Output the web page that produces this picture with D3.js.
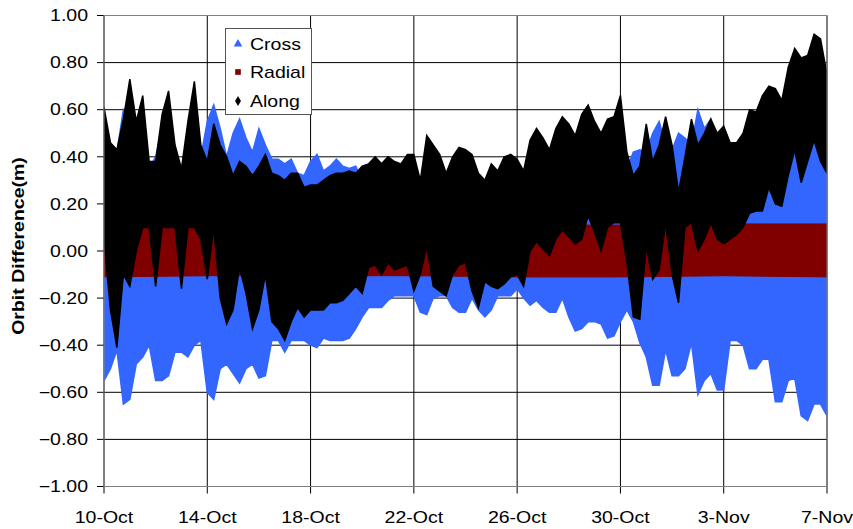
<!DOCTYPE html>
<html>
<head>
<meta charset="utf-8">
<script src="https://cdn.jsdelivr.net/npm/d3@7"></script>
<style>
  body { margin: 0; background: #fff; }
  text { font-family: "Liberation Sans", Arial, sans-serif; fill: #000; }
</style>
</head>
<body>
<svg id="chart" width="853" height="529"></svg>
<script>
// Orbit differences, 10-Oct to 7-Nov. Each series is kept as the spread
// (high / low envelope) of the dense samples in consecutive 6-hour bins.
const binDays = 0.25;

const crossHigh = [
  0.45,0.40,0.42,0.60,0.55,0.38,0.35,0.35,0.40,0.53,0.42,0.35,0.35,0.38,0.35,0.40,0.55,0.62,0.52,
  0.40,0.50,0.56,0.48,0.42,0.52,0.45,0.39,0.39,0.37,0.39,0.33,0.32,0.38,0.41,0.34,0.36,0.39,0.36,0.35,
  0.36,0.30,0.26,0.26,0.26,0.26,0.26,0.26,0.26,0.26,0.26,0.26,0.26,0.26,0.26,0.26,0.26,0.26,0.26,
  0.26,0.26,0.26,0.26,0.26,0.26,0.26,0.26,0.26,0.26,0.26,0.26,0.26,0.26,0.26,0.26,0.26,0.26,0.26,
  0.30,0.30,0.30,0.30,0.35,0.42,0.43,0.42,0.50,0.55,0.45,0.43,0.50,0.48,0.45,0.60,0.52,0.56,0.45,0.44,
  0.30,0.30,0.28,0.25,0.25,0.26,0.29,0.24,0.23,0.30,0.44,0.37,0.37,0.47,0.45,0.41
];
const crossLow = [
  -0.55,-0.50,-0.42,-0.65,-0.63,-0.48,-0.45,-0.40,-0.55,-0.55,-0.53,-0.43,-0.43,-0.45,-0.40,-0.38,-0.60,-0.63,-0.50,
  -0.48,-0.52,-0.56,-0.50,-0.48,-0.54,-0.53,-0.38,-0.38,-0.43,-0.38,-0.38,-0.38,-0.40,-0.41,-0.37,-0.38,-0.38,-0.38,-0.37,
  -0.33,-0.28,-0.24,-0.24,-0.24,-0.21,-0.19,-0.19,-0.19,-0.19,-0.26,-0.27,-0.20,-0.19,-0.19,-0.24,-0.26,-0.26,-0.20,
  -0.25,-0.28,-0.25,-0.19,-0.19,-0.19,-0.16,-0.20,-0.23,-0.21,-0.24,-0.26,-0.26,-0.20,-0.28,-0.34,-0.33,-0.30,-0.30,
  -0.31,-0.37,-0.36,-0.30,-0.25,-0.30,-0.39,-0.45,-0.57,-0.57,-0.42,-0.53,-0.53,-0.50,-0.39,-0.61,-0.55,-0.52,-0.59,-0.59,
  -0.38,-0.38,-0.40,-0.50,-0.50,-0.46,-0.46,-0.64,-0.64,-0.55,-0.54,-0.70,-0.72,-0.65,-0.65,-0.70
];

const alongHigh = [
  0.61,0.46,0.43,0.56,0.73,0.55,0.66,0.38,0.38,0.58,0.68,0.45,0.35,0.55,0.72,0.45,0.38,0.54,0.45,
  0.40,0.32,0.38,0.36,0.32,0.36,0.41,0.33,0.32,0.30,0.33,0.33,0.27,0.28,0.28,0.30,0.32,0.33,0.33,0.34,
  0.33,0.36,0.37,0.40,0.37,0.40,0.38,0.37,0.41,0.41,0.30,0.49,0.45,0.41,0.33,0.40,0.44,0.43,0.41,
  0.33,0.30,0.37,0.34,0.40,0.41,0.39,0.34,0.47,0.52,0.48,0.43,0.52,0.57,0.54,0.49,0.58,0.62,0.55,
  0.50,0.56,0.57,0.66,0.42,0.32,0.36,0.54,0.38,0.45,0.57,0.45,0.25,0.40,0.56,0.45,0.50,0.56,0.50,0.53,
  0.46,0.46,0.50,0.60,0.59,0.66,0.70,0.69,0.64,0.78,0.86,0.82,0.83,0.92,0.90,0.75
];
const alongLow = [
  0.05,-0.25,-0.41,-0.10,-0.15,0.00,0.10,0.10,-0.15,0.10,0.10,0.10,-0.16,0.10,0.10,0.05,-0.12,0.10,-0.20,
  -0.31,-0.25,-0.07,-0.18,-0.33,-0.25,-0.10,-0.30,-0.33,-0.38,-0.30,-0.24,-0.28,-0.25,-0.25,-0.25,-0.22,-0.22,-0.21,-0.18,
  -0.15,-0.18,-0.07,-0.06,-0.10,-0.05,-0.08,-0.07,-0.06,-0.17,-0.10,0.02,-0.15,-0.17,-0.19,-0.10,-0.06,-0.05,-0.17,
  -0.24,-0.13,-0.15,-0.16,-0.14,-0.11,-0.10,-0.15,0.00,0.04,0.01,-0.02,0.05,0.09,0.06,0.03,0.05,0.15,0.08,
  0.00,0.10,0.12,0.12,-0.05,-0.28,-0.29,0.02,-0.12,-0.08,0.12,-0.10,-0.22,0.10,0.12,0.00,0.05,0.12,0.05,0.03,
  0.05,0.07,0.10,0.16,0.17,0.17,0.27,0.20,0.19,0.32,0.43,0.29,0.38,0.47,0.38,0.33
];

// Radial stays in a narrow band; sampled every 4 days.
const radialDays = [0, 4, 8, 12, 16, 20, 24, 28];
const radialHigh = [0.115, 0.11, 0.105, 0.105, 0.11, 0.11, 0.115, 0.115];
const radialLow = [-0.11, -0.105, -0.105, -0.105, -0.11, -0.11, -0.105, -0.11];

const yTicks = [-1.0, -0.8, -0.6, -0.4, -0.2, 0.0, 0.2, 0.4, 0.6, 0.8, 1.0];
const xTickDays = [0, 4, 8, 12, 16, 20, 24, 28];
const xTickLabels = ["10-Oct", "14-Oct", "18-Oct", "22-Oct", "26-Oct", "30-Oct", "3-Nov", "7-Nov"];
const seriesNames = ["Cross", "Radial", "Along"];
const seriesColors = ["#3366ff", "#800000", "#000000"];

const startMs = Date.UTC(2003, 9, 10);
const toDate = d => new Date(startMs + d * 864e5);

const svg = d3.select("#chart");
const plotLeft = 104, plotRight = 827, plotTop = 15.5, plotBottom = 486.5;
const x = d3.scaleUtc().domain([toDate(0), toDate(28)]).range([plotLeft, plotRight]);
const y = d3.scaleLinear().domain([-1, 1]).range([plotBottom, plotTop]);
const textStretch = 1.22;

svg.append("defs").append("clipPath").attr("id", "plot")
  .append("rect").attr("x", plotLeft).attr("y", plotTop)
  .attr("width", plotRight - plotLeft).attr("height", plotBottom - plotTop);

// gridlines (extended past the frame as tick marks)
svg.append("g").selectAll("line").data(yTicks).join("line")
  .attr("x1", plotLeft - 7).attr("x2", plotRight)
  .attr("y1", d => y(d)).attr("y2", d => y(d))
  .attr("stroke", "#000").attr("stroke-width", 1);
svg.append("g").selectAll("line").data(xTickDays).join("line")
  .attr("x1", d => x(toDate(d))).attr("x2", d => x(toDate(d)))
  .attr("y1", plotTop).attr("y2", plotBottom + 7)
  .attr("stroke", "#000").attr("stroke-width", 1);

// series bands
const binned = (hi, lo) => hi.map((h, i) => ({ d: i * binDays, hi: h, lo: lo[i] }));
const band = d3.area()
  .x(p => x(toDate(p.d)))
  .y0(p => y(p.lo))
  .y1(p => y(p.hi));

const layers = svg.append("g").attr("clip-path", "url(#plot)");
layers.append("path").datum(binned(crossHigh, crossLow))
  .attr("d", band).attr("fill", seriesColors[0]).attr("stroke", seriesColors[0]).attr("stroke-width", 1.5);
layers.append("path").datum(radialDays.map((d, i) => ({ d, hi: radialHigh[i], lo: radialLow[i] })))
  .attr("d", band).attr("fill", seriesColors[1]).attr("stroke", seriesColors[1]).attr("stroke-width", 1);
layers.append("path").datum(binned(alongHigh, alongLow))
  .attr("d", band).attr("fill", seriesColors[2]).attr("stroke", seriesColors[2]).attr("stroke-width", 1.5);

// plot frame
svg.append("rect").attr("x", plotLeft).attr("y", plotTop)
  .attr("width", plotRight - plotLeft).attr("height", plotBottom - plotTop)
  .attr("fill", "none").attr("stroke", "#808080").attr("stroke-width", 1);

// axis labels
svg.append("g").selectAll("text").data(yTicks).join("text")
  .attr("transform", d => `translate(88,${y(d)}) scale(${textStretch},1)`)
  .attr("text-anchor", "end").attr("dy", "0.36em")
  .style("font-size", "16px")
  .text(d => d3.format(".2f")(d));
svg.append("g").selectAll("text").data(xTickDays).join("text")
  .attr("transform", d => `translate(${x(toDate(d))},523) scale(${textStretch},1)`)
  .attr("text-anchor", "middle")
  .style("font-size", "16px")
  .text((d, i) => xTickLabels[i]);

svg.append("text")
  .attr("transform", `translate(24,246) rotate(-90) scale(${textStretch},1)`)
  .attr("text-anchor", "middle")
  .style("font-size", "16px").style("font-weight", "bold")
  .text("Orbit Difference(m)");

// legend
const legend = svg.append("g");
legend.append("rect").attr("x", 225.5).attr("y", 28.5).attr("width", 86).attr("height", 86)
  .attr("fill", "#fff").attr("stroke", "#555");
const symbols = [d3.symbolTriangle, d3.symbolSquare, d3.symbolDiamond];
const rowY = [44, 72, 101];
seriesNames.forEach((name, i) => {
  legend.append("path")
    .attr("d", d3.symbol().type(symbols[i]).size(i === 2 ? 30 : 32)())
    .attr("transform", `translate(238,${rowY[i]})`)
    .attr("fill", seriesColors[i]);
  legend.append("text")
    .attr("transform", `translate(250,${rowY[i]}) scale(${textStretch},1)`)
    .attr("dy", "0.36em").style("font-size", "16px")
    .text(name);
});
</script>
</body>
</html>
